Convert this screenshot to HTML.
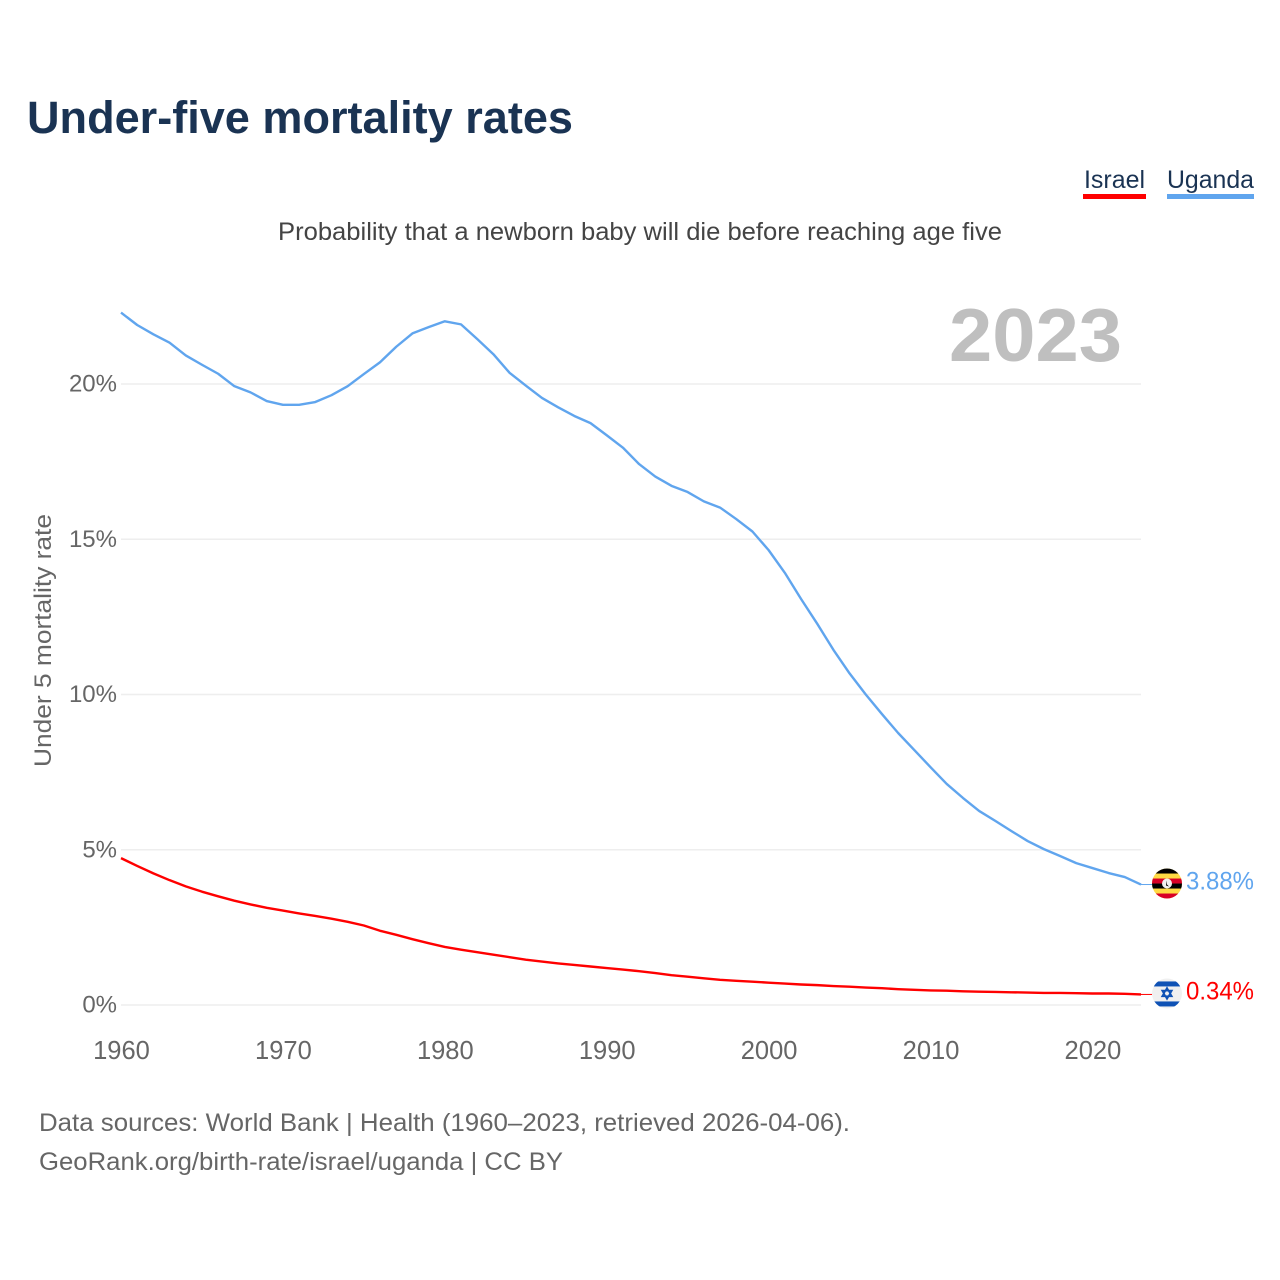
<!DOCTYPE html>
<html lang="en">
<head>
<meta charset="utf-8">
<title>Under-five mortality rates</title>
<style>
html,body{margin:0;padding:0;background:#fff;}
svg{display:block;font-family:"Liberation Sans",sans-serif;}
</style>
</head>
<body>
<svg id="chart" width="1280" height="1280" viewBox="0 0 1280 1280" xmlns="http://www.w3.org/2000/svg">
  <rect width="1280" height="1280" fill="#fff"/>
  <text x="27" y="133" font-size="45" font-weight="700" fill="#1a3353" textLength="546" lengthAdjust="spacingAndGlyphs">Under-five mortality rates</text>
  <g>
    <text x="1084" y="188" font-size="25" fill="#1a3353" textLength="61" lengthAdjust="spacingAndGlyphs">Israel</text>
    <rect x="1083" y="194" width="63" height="5" fill="#ff0000"/>
  </g>
  <g>
    <text x="1167" y="188" font-size="25" fill="#1a3353" textLength="87" lengthAdjust="spacingAndGlyphs">Uganda</text>
    <rect x="1167" y="194" width="87" height="5" fill="#60a5ee"/>
  </g>
  <text x="278" y="240" font-size="25" fill="#444" textLength="724" lengthAdjust="spacingAndGlyphs">Probability that a newborn baby will die before reaching age five</text>
  <text x="949" y="361" font-size="75" font-weight="700" fill="#bfbfbf" textLength="173" lengthAdjust="spacingAndGlyphs">2023</text>
  <text transform="translate(51,767) rotate(-90)" font-size="24.5" fill="#666" textLength="253" lengthAdjust="spacingAndGlyphs">Under 5 mortality rate</text>
  <g id="grid"></g>
  <g id="yticks"></g>
  <g id="xticks"></g>
  <g id="series"></g>

  <g id="flag-uganda">
    <clipPath id="clip-ug"><circle cx="0" cy="0" r="15"/></clipPath>
    <g clip-path="url(#clip-ug)">
      <rect x="-15" y="-15" width="30" height="30" fill="#ffda44"/>
      <rect x="-15" y="-15" width="30" height="5" fill="#000"/>
      <rect x="-15" y="-5" width="30" height="5" fill="#d80027"/>
      <rect x="-15" y="0" width="30" height="5" fill="#000"/>
      <rect x="-15" y="10" width="30" height="5" fill="#d80027"/>
      <circle cx="0" cy="0" r="5" fill="#f0f0f0"/>
      <path d="M0,-3 L0,1 L2,3 L-1,2 Z" fill="#000"/>
    </g>
  </g>
  <g id="flag-israel">
    <clipPath id="clip-il"><circle cx="0" cy="0" r="15"/></clipPath>
    <g clip-path="url(#clip-il)">
      <rect x="-15" y="-15" width="30" height="30" fill="#f0f0f0"/>
      <rect x="-15" y="-12" width="30" height="5" fill="#0f52b5"/>
      <rect x="-15" y="8" width="30" height="5" fill="#0f52b5"/>
      <path d="M0,-5.5 L4.8,2.8 L-4.8,2.8 Z M0,5.5 L4.8,-2.8 L-4.8,-2.8 Z" fill="none" stroke="#0f52b5" stroke-width="1.7"/>
    </g>
  </g>
  <text id="value-uganda" x="1186" font-size="25" fill="#60a5ee" textLength="68" lengthAdjust="spacingAndGlyphs"></text>
  <text id="value-israel" x="1186" font-size="25" fill="#ff0000" textLength="68" lengthAdjust="spacingAndGlyphs"></text>

  <text x="39" y="1131" font-size="25" fill="#666" textLength="811" lengthAdjust="spacingAndGlyphs">Data sources: World Bank | Health (1960–2023, retrieved 2026-04-06).</text>
  <text x="39" y="1170" font-size="25" fill="#666" textLength="524" lengthAdjust="spacingAndGlyphs">GeoRank.org/birth-rate/israel/uganda | CC BY</text>
</svg>
<script>
const startYear = 1960;
const endYear = 2023;
const xTickYears = [1960, 1970, 1980, 1990, 2000, 2010, 2020];
const yTickValues = [0, 5, 10, 15, 20];
const ugandaValues = [22.3,21.9,21.6,21.33,20.92,20.62,20.33,19.93,19.73,19.45,19.33,19.33,19.42,19.64,19.93,20.32,20.7,21.2,21.63,21.83,22.02,21.92,21.45,20.96,20.36,19.95,19.55,19.25,18.97,18.74,18.35,17.95,17.42,17.02,16.72,16.52,16.22,16.02,15.65,15.25,14.65,13.92,13.08,12.28,11.44,10.68,10.0,9.37,8.76,8.21,7.66,7.12,6.67,6.25,5.93,5.6,5.28,5.02,4.8,4.57,4.41,4.25,4.12,3.88];
const israelValues = [4.73,4.48,4.24,4.02,3.82,3.65,3.5,3.36,3.24,3.13,3.04,2.95,2.87,2.78,2.68,2.56,2.39,2.26,2.12,1.99,1.87,1.78,1.7,1.62,1.54,1.46,1.4,1.34,1.29,1.24,1.19,1.14,1.09,1.03,0.96,0.91,0.86,0.81,0.78,0.75,0.72,0.69,0.66,0.64,0.61,0.59,0.56,0.54,0.51,0.49,0.47,0.46,0.44,0.43,0.42,0.41,0.4,0.39,0.39,0.38,0.37,0.37,0.36,0.34];

const NS = 'http://www.w3.org/2000/svg';
function xScale(year){ return 121 + (year - startYear) * (1020 / (endYear - startYear)); }
function yScale(v){ return 1005 - v * 31.05; }
function make(tag, attrs, parent){
  const el = document.createElementNS(NS, tag);
  for (const k in attrs) el.setAttribute(k, attrs[k]);
  parent.appendChild(el);
  return el;
}
const grid = document.getElementById('grid');
const yticks = document.getElementById('yticks');
const xticks = document.getElementById('xticks');
const seriesGroup = document.getElementById('series');

yTickValues.forEach(function(v){
  const line = make('line', {x1:121, x2:1141, y1:yScale(v), y2:yScale(v), stroke:'#eeeeee', 'stroke-width':1.6}, grid);
  
  
  const t = make('text', {x:117, y:yScale(v) + 7.5, 'text-anchor':'end', 'font-size':24, fill:'#666'}, yticks);
  
  
  t.textContent = v + '%';
});
xTickYears.forEach(function(y){
  const t = make('text', {x:xScale(y) + 0.5, y:1059, 'text-anchor':'middle', 'font-size':25.5, fill:'#666'}, xticks);
  
  
  t.textContent = y;
});
function drawSeries(values, color, flagId, labelId){
  const pts = values.map(function(v, i){ return xScale(startYear + i).toFixed(2) + ',' + yScale(v).toFixed(2); }).join(' ');
  const line = make('polyline', {points:pts, fill:'none', stroke:color, 'stroke-width':2.4, 'stroke-linejoin':'round'}, seriesGroup);
  
  
  const last = values[values.length - 1];
  const ly = yScale(last);
  const lead = make('line', {x1:1141, x2:1152, y1:ly, y2:ly, stroke:color, 'stroke-width':1}, seriesGroup);
  
  
  document.getElementById(flagId).setAttribute('transform', 'translate(1167,' + (ly - 1) + ')');
  const label = document.getElementById(labelId);
  label.setAttribute('y', ly + 5);
  label.textContent = last.toFixed(2) + '%';
}
drawSeries(ugandaValues, '#60a5ee', 'flag-uganda', 'value-uganda');
drawSeries(israelValues, '#ff0000', 'flag-israel', 'value-israel');
</script>
</body>
</html>
